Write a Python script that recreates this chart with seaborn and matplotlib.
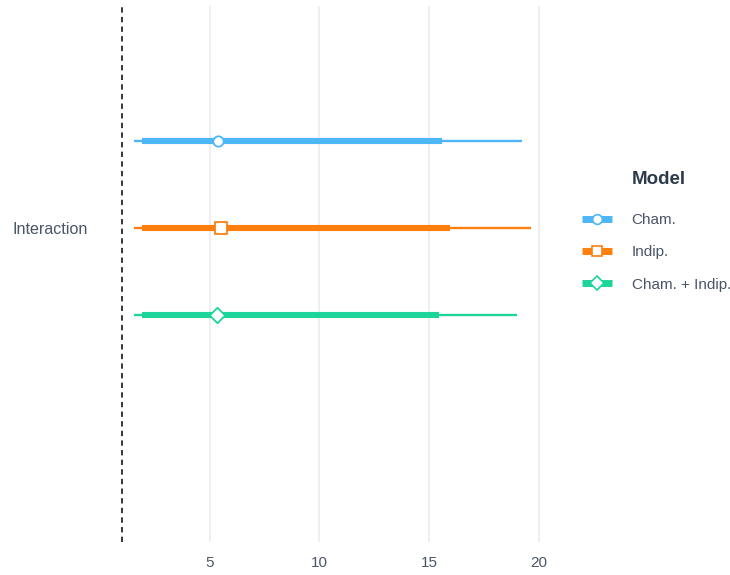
import numpy as np
import pandas as pd
import seaborn as sns
import matplotlib.pyplot as plt
from matplotlib.lines import Line2D

# date
models = ["Cham.", "Indip.", "Cham. + Indip."]
term = "Interaction"
estimate = [5.38, 5.50, 5.33]
inner_lo = [1.91, 1.91, 1.91]
inner_hi = [15.60, 15.95, 15.44]
outer_lo = [1.55, 1.55, 1.55]
outer_hi = [19.24, 19.64, 19.01]
xticks = [5, 10, 15, 20]

colors = ["#4DB6F6", "#FF7F0E", "#1DD49B"]
markers = ["o", "s", "D"]
msizes = [55, 70, 62]

df = pd.DataFrame({
    "model": models,
    "est": estimate,
    "lo50": inner_lo, "hi50": inner_hi,
    "lo95": outer_lo, "hi95": outer_hi,
})
df["pos"] = np.arange(len(df))

sns.set_theme(style="white")
plt.rcParams["font.family"] = ["Liberation Sans", "DejaVu Sans"]
txt = "#4A5568"

fig = plt.figure(figsize=(7.3, 5.75), dpi=100)
ax = fig.add_axes([100 / 730, 33 / 575, 460.5 / 730, 536 / 575])

for x in xticks:
    ax.axvline(x, color="#EBEBEB", lw=1.1, zorder=0)
ax.axvline(1, color="black", lw=1.1, ls=(0, (3.5, 2.8)), zorder=1)

for i, row in df.iterrows():
    c = colors[i]
    ax.hlines(row["pos"], row["lo95"], row["hi95"], color=c, lw=1.7, zorder=2)
    ax.hlines(row["pos"], row["lo50"], row["hi50"], color=c, lw=4.4, zorder=3)
    sns.scatterplot(x=[row["est"]], y=[row["pos"]], marker=markers[i], s=msizes[i],
                    color="white", edgecolor=c, linewidth=1.3, zorder=4, ax=ax, legend=False)

ax.set_xlim(0, 21)
ax.set_ylim(4.606, -1.555)
ax.set_xticks(xticks)
ax.set_xticklabels([str(x) for x in xticks])
ax.set_yticks([1])
ax.set_yticklabels([term])
ax.tick_params(axis="x", length=0, pad=10, labelsize=11, labelcolor=txt)
ax.tick_params(axis="y", length=0, pad=9, labelsize=11.6, labelcolor=txt)
ax.set_xlabel("")
ax.set_ylabel("")
for s in ax.spines.values():
    s.set_visible(False)

# legenda
handles = [Line2D([0], [0], color=c, lw=5, marker=m, markersize=7, solid_capstyle="butt",
                  markerfacecolor="white", markeredgecolor=c, markeredgewidth=1.2)
           for c, m in zip(colors, markers)]
fig.legend(handles, models, loc="upper left", bbox_to_anchor=(582 / 730, 1 - 213 / 575),
           frameon=False, borderpad=0, borderaxespad=0, handlelength=1.95, handletextpad=1.3,
           labelspacing=1.2, fontsize=11, labelcolor=txt)
fig.text(632 / 730, 1 - 179 / 575, "Model", fontsize=13.5, fontweight="bold",
         color="#2D3A4C", va="center", ha="left")

fig.savefig("out.png", dpi=100)
